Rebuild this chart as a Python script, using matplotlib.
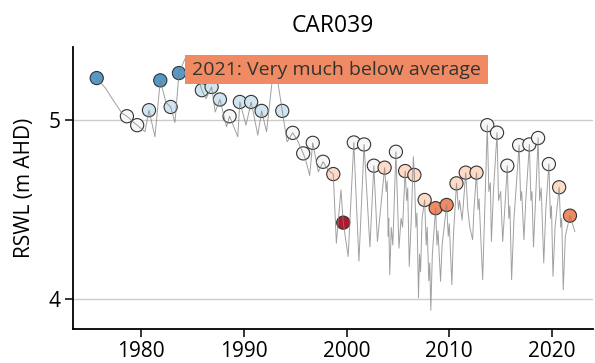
import matplotlib
matplotlib.use("Agg")
import matplotlib.pyplot as plt
from matplotlib.patches import Rectangle

plt.rcParams['font.family'] = ['Open Sans', 'DejaVu Sans']

# hydrograph (decimal year, RSWL)
line_years = [
    1975.66, 1976.5, 1977.4, 1978.1, 1978.6, 1979.2, 1979.6, 1980.36, 1980.75,
    1981.33, 1981.85, 1982.4, 1982.86, 1983.28, 1983.67, 1984.3, 1985.0, 1985.5,
    1985.9, 1986.3, 1986.85, 1987.2, 1987.66, 1988.3, 1988.6, 1989.4, 1989.6,
    1990.2, 1990.7, 1991.35, 1991.72, 1992.2, 1992.9, 1993.2, 1993.73, 1994.2,
    1994.75, 1995.2, 1995.77, 1996.0, 1996.4, 1996.7, 1997.24, 1997.7, 1998.2,
    1998.7, 1999.0, 1999.45, 1999.67, 2000.15, 2000.7, 2001.2, 2001.7, 2002.27,
    2002.65, 2003.0, 2003.7,
    2003.85, 2003.95, 2004.05, 2004.1, 2004.2, 2004.35, 2004.5, 2004.8,
    2005.1, 2005.3, 2005.45, 2005.7,
    2005.85, 2005.95, 2006.1, 2006.3, 2006.5, 2006.6,
    2006.75, 2006.85, 2007.0, 2007.1, 2007.2, 2007.35, 2007.6,
    2007.75, 2007.85, 2008.0, 2008.1, 2008.2, 2008.35, 2008.67,
    2008.8, 2008.9, 2009.15, 2009.3, 2009.74,
    2009.9, 2010.0, 2010.25, 2010.4, 2010.7,
    2010.9, 2011.0, 2011.25, 2011.6,
    2011.8, 2012.0, 2012.27, 2012.4, 2012.65,
    2012.8, 2012.9, 2013.25, 2013.4, 2013.7,
    2013.85, 2014.0, 2014.1, 2014.3, 2014.65,
    2014.8, 2015.0, 2015.2, 2015.4, 2015.65,
    2015.8, 2015.9, 2016.07, 2016.3, 2016.8,
    2016.95, 2017.05, 2017.27, 2017.45, 2017.8,
    2017.95, 2018.05, 2018.2, 2018.4, 2018.65,
    2018.8, 2018.95, 2019.2, 2019.4, 2019.7,
    2019.85, 2019.95, 2020.1, 2020.3, 2020.7,
    2020.85, 2020.95, 2021.1, 2021.3, 2021.75,
    2022.23,
]
line_levels = [
    5.236, 5.18, 5.10, 5.04, 5.022, 4.99, 4.972, 4.935, 5.056,
    4.907, 5.223, 5.10, 5.074, 4.987, 5.264, 5.35, 5.30, 5.25,
    5.168, 5.12, 5.186, 5.046, 5.116, 4.963, 5.022, 4.907, 5.102,
    4.972, 5.102, 4.916, 5.052, 4.935, 5.30, 5.25, 5.052, 4.879,
    4.929, 4.888, 4.814, 4.78, 4.69, 4.873, 4.71, 4.767, 4.72,
    4.698, 4.311, 4.61, 4.426, 4.236, 4.875, 4.21, 4.864, 4.29,
    4.745, 4.32, 4.734,
    4.60, 4.66, 4.35, 4.45, 4.134, 4.40, 4.30, 4.823,
    4.283, 4.45, 4.40, 4.715,
    4.55, 4.62, 4.18, 4.45, 4.795, 4.693,
    4.40, 4.48, 4.004, 4.25, 4.15, 4.45, 4.553,
    4.30, 4.40, 4.10, 4.20, 3.935, 4.25, 4.507,
    4.30, 4.38, 4.097, 4.30, 4.525,
    4.35, 4.42, 4.078, 4.35, 4.646,
    4.50, 4.55, 4.44, 4.706,
    4.50, 4.40, 4.33, 4.50, 4.706,
    4.50, 4.56, 4.106, 4.40, 4.972,
    4.60, 4.65, 4.32, 4.60, 4.93,
    4.55, 4.60, 4.32, 4.50, 4.745,
    4.45, 4.52, 4.106, 4.45, 4.86,
    4.55, 4.60, 4.33, 4.55, 4.864,
    4.55, 4.60, 4.29, 4.55, 4.90,
    4.55, 4.62, 4.20, 4.50, 4.754,
    4.45, 4.52, 4.125, 4.40, 4.624,
    4.40, 4.45, 4.05, 4.35, 4.465,
    4.376,
]

# annual peak readings and their ranking
peak_years = [
    1975.66, 1978.6, 1979.6, 1980.75, 1981.85, 1982.86, 1983.67, 1985.9,
    1986.85, 1987.66, 1988.6, 1989.6, 1990.7, 1991.72, 1993.73, 1994.75,
    1995.77, 1996.7, 1997.7, 1998.7, 1999.67, 2000.7, 2001.7, 2002.65,
    2003.7, 2004.8, 2005.7, 2006.6, 2007.6, 2008.67, 2009.74, 2010.7,
    2011.6, 2012.65, 2013.7, 2014.65, 2015.65, 2016.8, 2017.8, 2018.65,
    2019.7, 2020.7, 2021.75,
]
peak_levels = [
    5.236, 5.022, 4.972, 5.056, 5.223, 5.074, 5.264, 5.168,
    5.186, 5.116, 5.022, 5.102, 5.102, 5.052, 5.052, 4.929,
    4.814, 4.873, 4.767, 4.698, 4.426, 4.875, 4.864, 4.745,
    4.734, 4.823, 4.715, 4.693, 4.553, 4.507, 4.525, 4.646,
    4.706, 4.706, 4.972, 4.93, 4.745, 4.86, 4.864, 4.90,
    4.754, 4.624, 4.465,
]
peak_class = [
    'vha', 'avg', 'avg', 'ha', 'vha', 'ha', 'vha', 'ha',
    'ha', 'ha', 'avg', 'ha', 'ha', 'ha', 'ha', 'avg',
    'avg', 'avg', 'avg', 'lb', 'low', 'avg', 'avg', 'avg',
    'lb', 'avg', 'lb', 'lb', 'lb', 'vlb', 'vlb', 'lb',
    'lb', 'lb', 'avg', 'avg', 'avg', 'avg', 'avg', 'avg',
    'avg', 'lb', 'vlb',
]
class_colors = {
    'low': '#b2182b',
    'vlb': '#ef8a62',
    'lb': '#fddbc7',
    'avg': '#f7f7f7',
    'ha': '#d1e5f0',
    'vha': '#5599c8',
}

fig = plt.figure(figsize=(5.95, 3.63), dpi=100)
ax = fig.add_axes([0.1227, 0.0937, 0.8740, 0.7768])

for yv in [4, 5]:
    ax.axhline(yv, color='#cccccc', lw=1.0, zorder=0)

ax.scatter(peak_years, peak_levels, s=90,
           c=[class_colors[k] for k in peak_class],
           edgecolors='#333333', linewidths=0.8, zorder=2)
ax.plot(line_years, line_levels, color='#808080', lw=0.7, alpha=0.75, zorder=3)

ax.set_xlim(1973.35, 2024.0)
ax.set_ylim(3.83, 5.41)
ax.set_xticks([1980, 1990, 2000, 2010, 2020])
ax.set_yticks([4, 5])
ax.tick_params(labelsize=15, length=5.5, width=1.1)
for s in ['top', 'right']:
    ax.spines[s].set_visible(False)
for s in ['left', 'bottom']:
    ax.spines[s].set_linewidth(1.3)

ax.set_ylabel('RSWL (m AHD)', fontsize=15, labelpad=10)
ax.set_title('CAR039', fontsize=16.5, pad=11)

ax.add_patch(Rectangle((0.2154, 0.869), 0.5827, 0.103, transform=ax.transAxes,
                       facecolor='#ef8a62', edgecolor='none', zorder=5))
ax.text(0.5067, 0.9202, '2021: Very much below average', transform=ax.transAxes,
        ha='center', va='center', fontsize=14, color='#333333', zorder=6)

fig.savefig('out.png', dpi=100)
